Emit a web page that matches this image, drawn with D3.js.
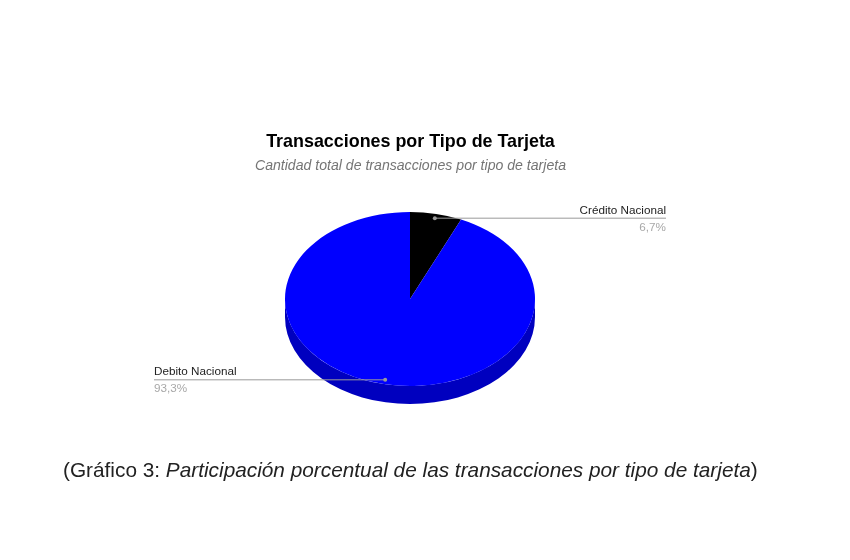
<!DOCTYPE html>
<html>
<head>
<meta charset="utf-8">
<script src="https://cdn.jsdelivr.net/npm/d3@7"></script>
<style>
  html, body { margin: 0; background: #fff; }
  svg { display: block; font-family: "Liberation Sans", Arial, sans-serif; filter: blur(0.4px); }
</style>
</head>
<body>
<svg id="chart" width="850" height="560"></svg>
<script>
const categories = ['Crédito Nacional', 'Debito Nacional'];
const shares = [6.7, 93.3];
const colors = ['#000000', '#0000ff'];
const sideColor = '#0000bf';
const title = 'Transacciones por Tipo de Tarjeta';
const subtitle = 'Cantidad total de transacciones por tipo de tarjeta';

const svg = d3.select('#chart');
const cx = 410;
const cy = 299;
const rx = 125;
const ry = 87;
const depth = 18;
const formatShare = (v) => d3.format('.1f')(v).replace('.', ',') + '%';

// Title
svg.append('text')
  .attr('x', 410.5)
  .attr('y', 147)
  .attr('text-anchor', 'middle')
  .attr('font-size', 17.9)
  .attr('font-weight', 'bold')
  .attr('fill', '#000')
  .text(title);

svg.append('text')
  .attr('x', 410.5)
  .attr('y', 170)
  .attr('text-anchor', 'middle')
  .attr('font-size', 14.1)
  .attr('font-style', 'italic')
  .attr('fill', '#757575')
  .text(subtitle);

// Pie side, the front half of the ellipse pushed down
const g = svg.append('g').attr('transform', `translate(${cx},${cy})`);

g.append('path')
  .attr('fill', sideColor)
  .attr('d', `M${-rx},0 A${rx},${ry} 0 0 0 ${rx},0 L${rx},${depth} A${rx},${ry} 0 0 1 ${-rx},${depth} Z`);

// Pie top, a round pie squashed to the ellipse
const pie = d3.pie().sort(null).value((d) => d);
const arc = d3.arc().innerRadius(0).outerRadius(rx);
const slices = pie(shares);

g.append('g')
  .attr('transform', `scale(1,${ry / rx})`)
  .selectAll('path')
  .data(slices)
  .enter()
  .append('path')
  .attr('fill', (d, i) => colors[i])
  .attr('d', arc);

// Leader lines and labels
const anchor = (d) => {
  const mid = (d.startAngle + d.endAngle) / 2;
  return [cx + 0.95 * rx * Math.sin(mid), cy - 0.95 * ry * Math.cos(mid)];
};

slices.forEach((d, i) => {
  const [x, y] = anchor(d);
  const right = x > cx;
  const end = right ? 666 : 154;

  svg.append('line')
    .attr('x1', x).attr('y1', y)
    .attr('x2', end).attr('y2', y)
    .attr('stroke', '#999')
    .attr('stroke-width', 1);

  svg.append('circle')
    .attr('cx', x).attr('cy', y)
    .attr('r', 2)
    .attr('fill', '#999');

  svg.append('text')
    .attr('x', end).attr('y', y - 4.5)
    .attr('text-anchor', right ? 'end' : 'start')
    .attr('font-size', 11.7)
    .attr('fill', '#222')
    .text(categories[i]);

  svg.append('text')
    .attr('x', end).attr('y', y + 12.5)
    .attr('text-anchor', right ? 'end' : 'start')
    .attr('font-size', 11.7)
    .attr('fill', '#a8a8a8')
    .text(formatShare(shares[i]));
});

// Caption under the chart
const caption = svg.append('text')
  .attr('x', 63)
  .attr('y', 477)
  .attr('font-size', 20.8)
  .attr('fill', '#222');
caption.append('tspan').text('(Gráfico 3: ');
caption.append('tspan').attr('font-style', 'italic').text('Participación porcentual de las transacciones por tipo de tarjeta');
caption.append('tspan').text(')');
</script>
</body>
</html>
